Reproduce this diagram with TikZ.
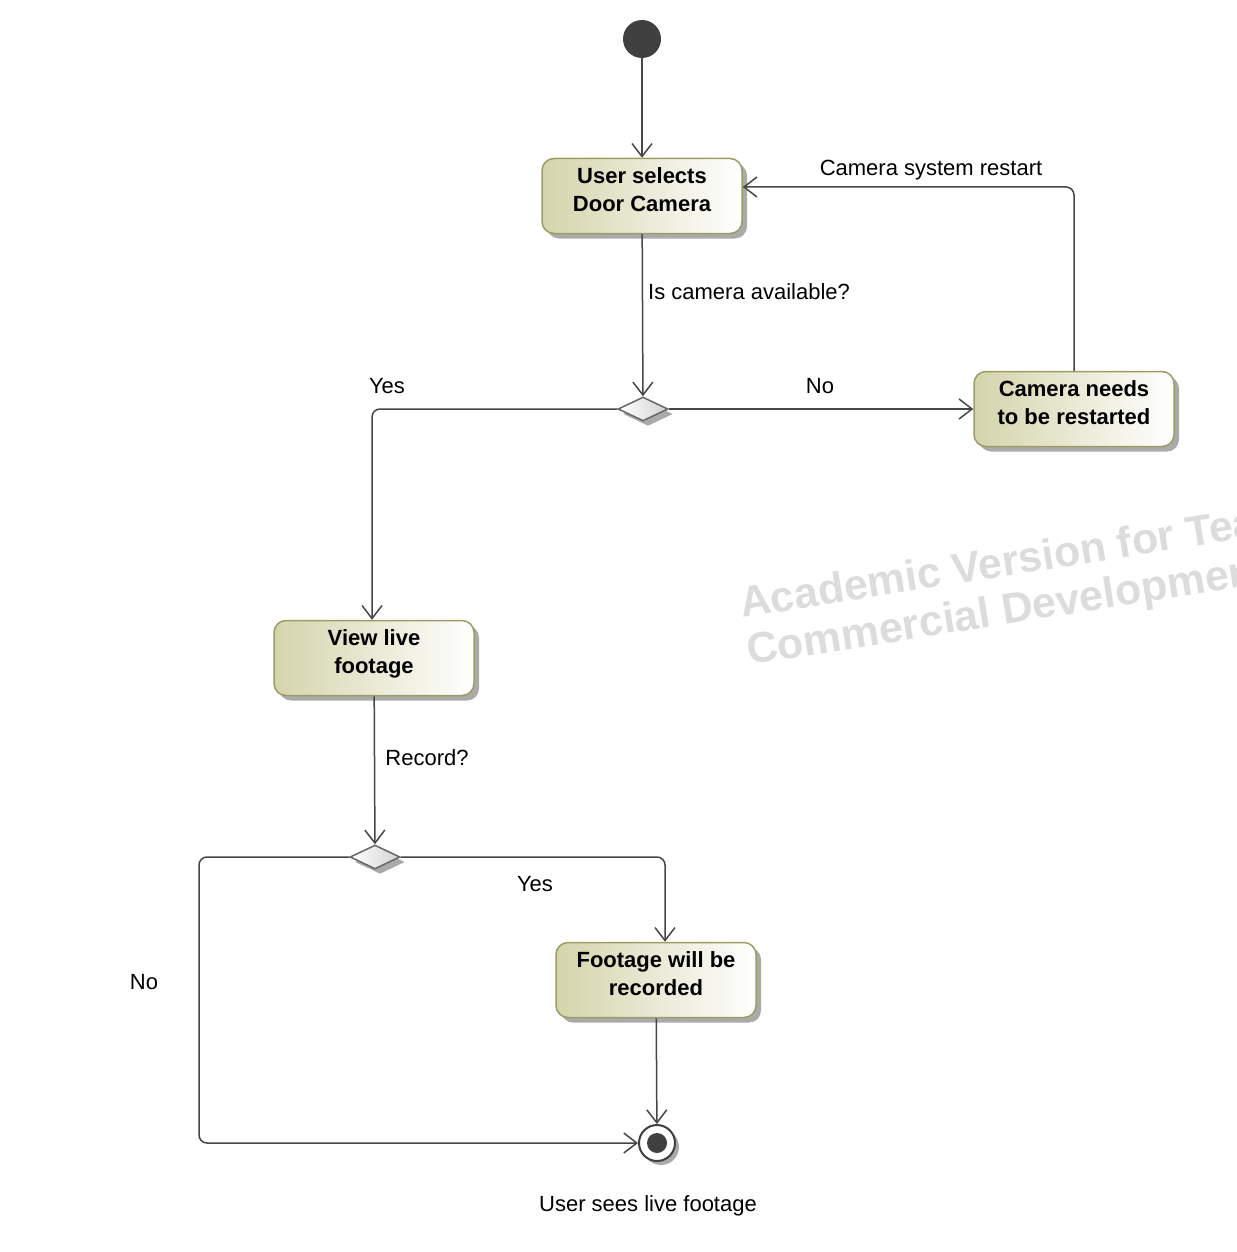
\documentclass[tikz,border=0pt]{standalone}
\usepackage{fontspec}
\setmainfont{Liberation Sans}
\usetikzlibrary{arrows.meta,shapes.geometric,shadows}
\definecolor{boxborder}{RGB}{156,156,100}
\definecolor{boxfill}{RGB}{212,212,172}
\definecolor{lineclr}{RGB}{70,70,70}
\definecolor{dark}{RGB}{64,64,64}
\definecolor{wmark}{RGB}{220,220,220}
\definecolor{shadowclr}{RGB}{170,170,170}
\newcommand{\boxtxt}[1]{\raisebox{4pt}[\height][\depth]{\begin{tabular}{@{}c@{}}#1\end{tabular}}}
\tikzset{
  actbox/.style={draw=boxborder, line width=1.5pt, rounded corners=12pt,
    left color=boxfill, right color=white,
    minimum width=200pt, minimum height=75pt, align=center, inner sep=0pt,
    font=\fontsize{22}{28}\selectfont\bfseries,
    drop shadow={shadow xshift=5pt, shadow yshift=-5pt, fill=shadowclr, opacity=1}},
  decision/.style={diamond, draw=gray!80!black, line width=1.5pt, inner sep=0pt,
    minimum width=50pt, minimum height=24pt, left color=white, right color=gray!35,
    drop shadow={shadow xshift=5pt, shadow yshift=-5pt, fill=shadowclr, opacity=1}},
  arr/.style={draw=lineclr, line width=1.5pt, rounded corners=8pt,
    -{Straight Barb[length=13pt, width=20pt, line width=1.5pt]}},
  lbl/.style={font=\fontsize{22}{26}\selectfont, inner sep=0pt},
  wm/.style={rotate=9, anchor=base west, text=wmark, inner sep=0pt,
    font=\fontsize{43}{43}\selectfont\bfseries}
}
\begin{document}
\begin{tikzpicture}[x=1pt, y=-1pt]
\useasboundingbox (0,0) rectangle (1236,1252);
\begin{scope}
\clip (0,0) rectangle (1236,1252);
\node[wm] (wm1) at (742,618) {Academic Version for Teaching Only};
\node[wm] (wm2) at (749,665) {Commercial Development is Strictly Prohibited};
\end{scope}

\node[circle, fill=dark, minimum size=38pt, inner sep=0pt] (start) at (642,39) {};
\node[actbox] (user) at (642,196) {\boxtxt{User selects\\Door Camera}};
\node[decision] (d1) at (643,409) {};
\node[actbox] (restart) at (1074,409) {\boxtxt{Camera needs\\to be restarted}};
\node[actbox] (view) at (374,658) {\boxtxt{View live\\footage}};
\node[decision] (d2) at (375,857) {};
\node[actbox] (rec) at (656,980) {\boxtxt{Footage will be\\recorded}};
\node[circle, draw=dark, line width=2pt, fill=white, minimum size=36pt, inner sep=0pt,
  drop shadow={shadow xshift=4pt, shadow yshift=-4pt, fill=shadowclr, opacity=1}] (fin) at (657,1143) {};
\node[circle, fill=dark, minimum size=20pt, inner sep=0pt] (finin) at (fin.center) {};
\coordinate (nocorner) at (199,1143);

\draw[arr] (start) -- (user);
\draw[arr] (user) -- (d1);
\draw[arr] (d1) -- (restart);
\draw[arr] (restart.north) |- ([yshift=9pt]user.east);
\draw[arr] (d1.west) -| ([xshift=-2pt]view.north);
\draw[arr] (view) -- (d2);
\draw[arr] (d2.east) -| ([xshift=9pt]rec.north);
\draw[arr] (rec) -- (fin);
\draw[arr] (d2.west) -| (nocorner) -- (fin.west);

\node[lbl] (l1) at (931,170) {Camera system restart};
\node[lbl, anchor=west] (l2) at (648,292) {Is camera available?};
\node[lbl] (l3) at (387,386) {Yes};
\node[lbl] (l4) at (820,386) {No};
\node[lbl] (l5) at (427,758) {Record?};
\node[lbl] (l6) at (535,884) {Yes};
\node[lbl] (l7) at (144,982) {No};
\node[lbl] (l8) at (648,1206) {User sees live footage};
\end{tikzpicture}
\end{document}
